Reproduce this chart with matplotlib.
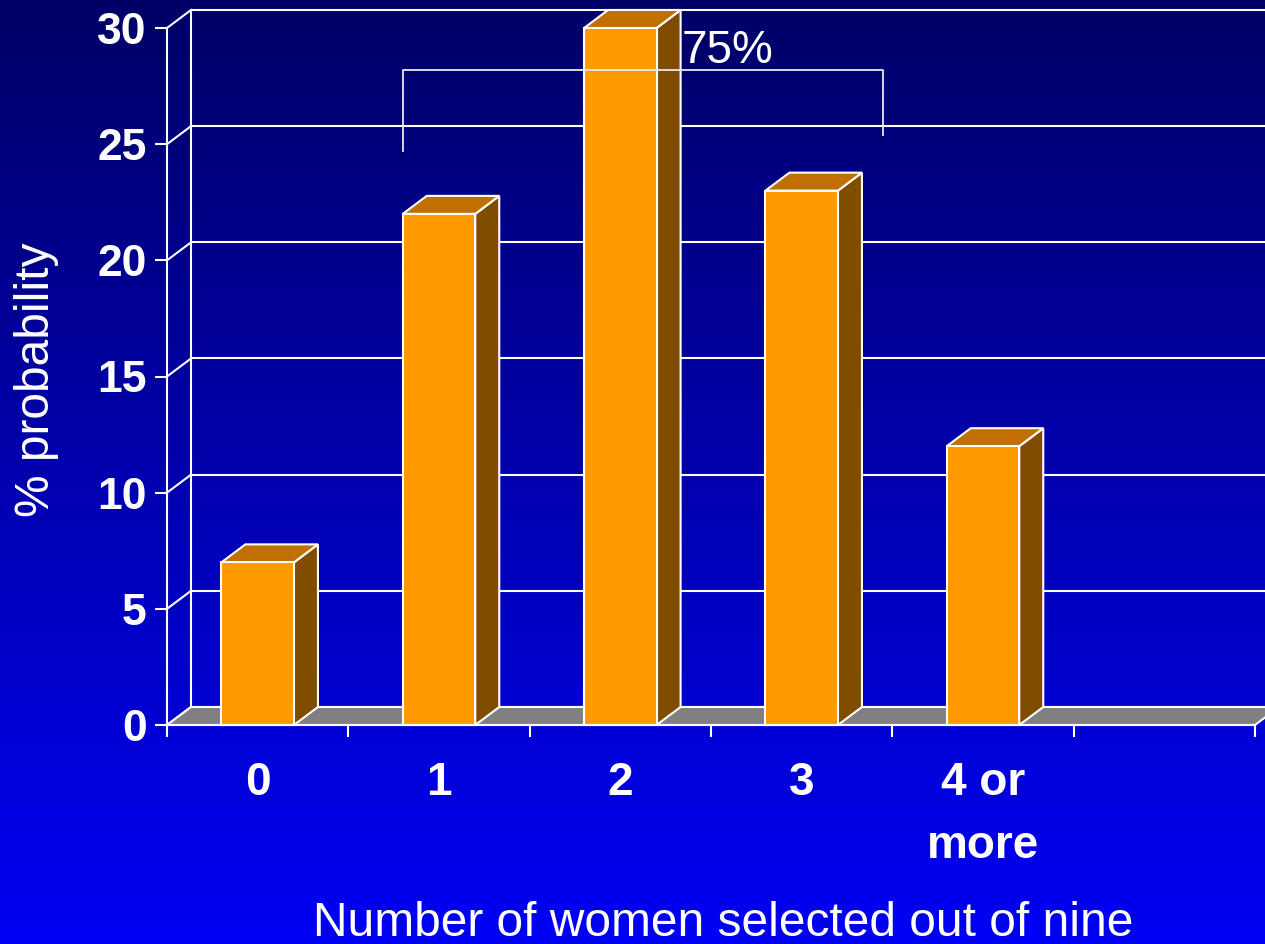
import numpy as np
import matplotlib.pyplot as plt
from matplotlib.patches import Polygon

plt.rcParams['font.family'] = ['Liberation Sans', 'DejaVu Sans']

# data
categories = ['0', '1', '2', '3', '4 or\nmore']
probability = [7, 22, 30, 23, 12]
n_slots = 6          # one empty slot on the right
bracket_label = '75%'

W, H = 1265, 944
fig = plt.figure(figsize=(W / 100, H / 100), dpi=100)

# blue gradient background
bg = fig.add_axes([0, 0, 1, 1], zorder=-10)
grad = np.linspace(0, 1, 256).reshape(-1, 1)
top_c = np.array([0.0, 0.0, 0.40])
bot_c = np.array([0.0, 0.0, 0.96])
img = top_c + (bot_c - top_c) * grad[:, :, None]
bg.imshow(img, aspect='auto', extent=[0, 1, 0, 1], origin='upper')
bg.axis('off')

# front plane of the pseudo 3d plot
x0_px, x1_px, y0_px, y1_px = 167, 1255, 725, 28
ax = fig.add_axes([x0_px / W, 1 - y0_px / H, (x1_px - x0_px) / W, (y0_px - y1_px) / H])
ax.set_xlim(0, n_slots)
ax.set_ylim(0, 30)
ax.patch.set_visible(False)

DX = 24 / ((x1_px - x0_px) / n_slots)   # depth offset in data units
DY = 18 / ((y0_px - y1_px) / 30)
white = 'white'
lw = 1.5

# back wall grid + side wall diagonals
levels = np.arange(0, 31, 5)
for k in levels:
    ax.plot([DX, n_slots + DX], [k + DY, k + DY], color=white, lw=lw, clip_on=False, zorder=1)
    ax.plot([0, DX], [k, k + DY], color=white, lw=lw, clip_on=False, zorder=1)
ax.plot([DX, DX], [DY, 30 + DY], color=white, lw=lw, clip_on=False, zorder=1)

# floor
floor = Polygon([(0, 0), (n_slots, 0), (n_slots + DX, DY), (DX, DY)], closed=True,
                facecolor='#808080', edgecolor=white, lw=lw, clip_on=False, zorder=2)
ax.add_patch(floor)

# bars
bw = 0.4
for i, v in enumerate(probability):
    xl = i + 0.5 - bw / 2
    xr = xl + bw
    side = Polygon([(xr, 0), (xr + DX, DY), (xr + DX, v + DY), (xr, v)], closed=True,
                   facecolor='#804C00', edgecolor=white, lw=lw, clip_on=False, zorder=3)
    top = Polygon([(xl, v), (xr, v), (xr + DX, v + DY), (xl + DX, v + DY)], closed=True,
                  facecolor='#C07000', edgecolor=white, lw=lw, clip_on=False, zorder=3)
    ax.add_patch(side)
    ax.add_patch(top)
    ax.bar(i + 0.5, v, width=bw, color='#FF9900', edgecolor=white, lw=lw, zorder=4, clip_on=False)

# bracket spanning bars 1-3
bx_l, bx_r = 1.3, 3.95
ax.plot([bx_l, bx_l, bx_r, bx_r], [24.7, 28.2, 28.2, 25.4], color='#e8e8f4', lw=1.3,
        clip_on=False, zorder=5)
ax.text(2.84, 28.5, bracket_label, color=white, fontsize=33, ha='left', va='baseline', zorder=6)

# axes, ticks, labels
for s in ['top', 'right']:
    ax.spines[s].set_visible(False)
for s in ['left', 'bottom']:
    ax.spines[s].set_color(white)
    ax.spines[s].set_linewidth(lw)
    ax.spines[s].set_zorder(5)

ax.set_yticks(levels)
ax.set_yticklabels([str(k) for k in levels])
ax.tick_params(axis='y', colors=white, length=8.6, width=lw, pad=6, labelsize=32)
for t in ax.get_yticklabels():
    t.set_fontweight('bold')

ax.set_xticks(np.arange(n_slots + 1))
ax.set_xticklabels([])
ax.set_xticks(np.arange(len(categories)) + 0.5, minor=True)
ax.set_xticklabels(categories, minor=True, fontsize=33, fontweight='bold', color=white,
                   linespacing=1.55)
ax.tick_params(axis='x', which='major', colors=white, length=8.6, width=lw)
ax.tick_params(axis='x', which='minor', length=0, pad=26)

fig.text(37 / W, 1 - 380 / H, '% probability', rotation=90, color=white, fontsize=34.5,
         ha='center', va='center')
fig.text(723 / W, 1 - 936 / H, 'Number of women selected out of nine', color=white,
         fontsize=34.5, ha='center', va='baseline')

plt.savefig('out.png', dpi=100)
